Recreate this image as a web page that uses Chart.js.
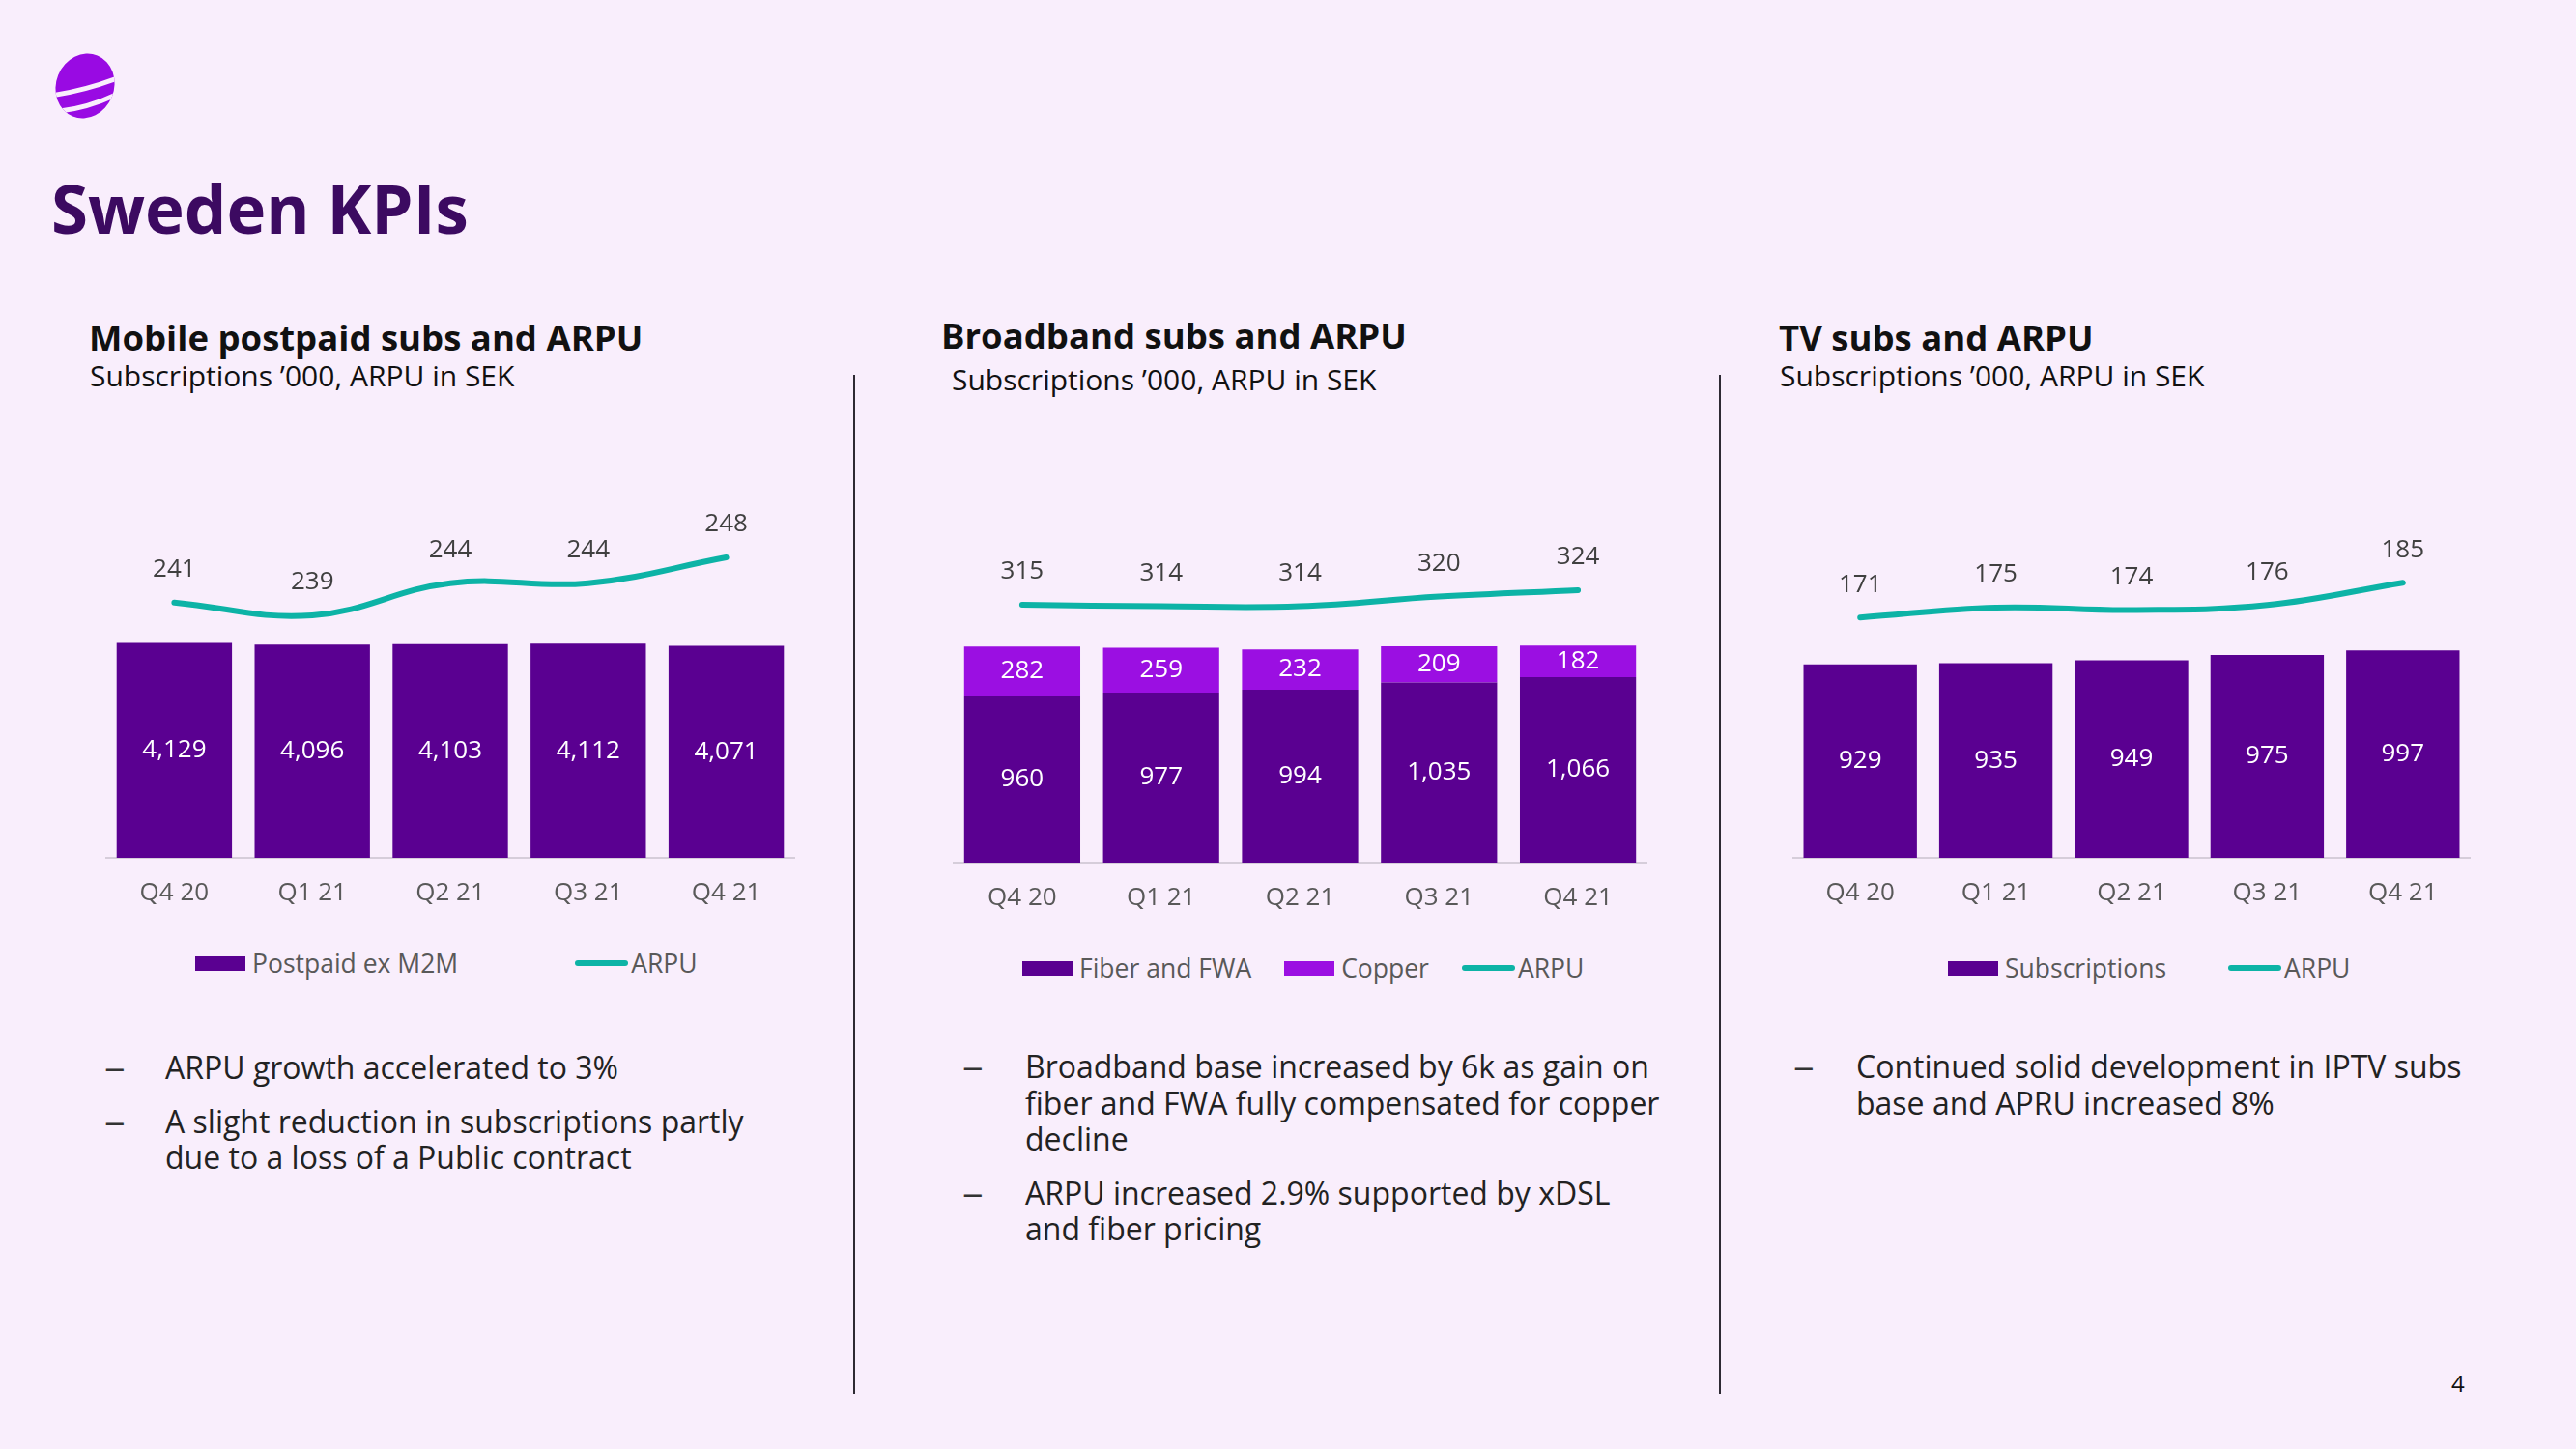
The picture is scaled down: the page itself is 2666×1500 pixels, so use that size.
<!DOCTYPE html>
<html>
<head>
<meta charset="utf-8">
<title>Sweden KPIs</title>
<script src="https://cdn.jsdelivr.net/npm/chart.js@4.4.1/dist/chart.umd.min.js"></script>
<style>
  html, body { margin: 0; padding: 0; }
  body {
    width: 2666px; height: 1500px; position: relative; overflow: hidden;
    background: #F9EEFC; font-family: "Open Sans", "Noto Sans", sans-serif;
  }
  .abs { position: absolute; white-space: nowrap; line-height: 1; }
  .page-title { font-size: 69px; font-weight: 700; color: #3C0A61; }
  .panel-title { font-size: 36.5px; font-weight: 700; color: #111; }
  .panel-sub { font-size: 30px; color: #111; }
  .divider { position: absolute; width: 2px; background: #2E2A33; top: 388px; height: 1055px; }
  canvas { position: absolute; }
  .legend { position: absolute; display: flex; align-items: center; height: 30px;
            font-size: 26.5px; color: #595959; white-space: nowrap; line-height: 1; }
  .lg-item { display: flex; align-items: center; }
  .lg-box { display: inline-block; width: 52px; height: 15px; margin-right: 7px; }
  .lg-line { display: inline-block; width: 55px; height: 6px; border-radius: 3px; margin-right: 3px; }
  .bullets { position: absolute; font-size: 32px; color: #222; }
  .bullets p { margin: 0 0 18px 0; line-height: 37.5px; position: relative; white-space: nowrap; }
  .bullets p .dash { position: absolute; top: 0; color: #333; display: inline-block;
                     transform: scaleX(1.35); transform-origin: left center; }
  .pagenum { font-size: 24px; color: #111; }
</style>
</head>
<body>

<svg class="abs" style="left:0;top:0" width="140" height="140" viewBox="0 0 140 140">
  <defs>
    <clipPath id="pebble">
      <ellipse cx="88" cy="89" rx="30" ry="34" transform="rotate(22 88 89)"/>
    </clipPath>
  </defs>
  <ellipse cx="88" cy="89" rx="30" ry="34" transform="rotate(22 88 89)" fill="#990AE3"/>
  <g clip-path="url(#pebble)" fill="none" stroke="#F9EEFC" stroke-width="5">
    <path d="M52 99 Q 88 94 124 80"/>
    <path d="M62 115 Q 94 111 124 96"/>
  </g>
</svg>

<div class="abs page-title" style="left:53px;top:181px">Sweden KPIs</div>

<div class="abs panel-title" style="left:92px;top:331px">Mobile postpaid subs and ARPU</div>
<div class="abs panel-sub" style="left:93px;top:374px">Subscriptions ’000, ARPU in SEK</div>

<div class="abs panel-title" style="left:974px;top:329px">Broadband subs and ARPU</div>
<div class="abs panel-sub" style="left:985px;top:378px">Subscriptions ’000, ARPU in SEK</div>

<div class="abs panel-title" style="left:1841px;top:331px">TV subs and ARPU</div>
<div class="abs panel-sub" style="left:1842px;top:374px">Subscriptions ’000, ARPU in SEK</div>

<div class="divider" style="left:883px"></div>
<div class="divider" style="left:1779px"></div>

<canvas id="c1" width="714" height="462" style="left:109px;top:500px"></canvas>
<canvas id="c2" width="719" height="467" style="left:986px;top:500px"></canvas>
<canvas id="c3" width="702" height="462" style="left:1855px;top:500px"></canvas>

<div class="legend" id="lg1" style="left:202px;top:982px"></div>
<div class="legend" id="lg2" style="left:1058px;top:987px"></div>
<div class="legend" id="lg3" style="left:2016px;top:987px"></div>

<div class="bullets" style="left:171px;top:1086px">
  <p><span class="dash" style="left:-63px">–</span>ARPU growth accelerated to 3%</p>
  <p><span class="dash" style="left:-63px">–</span>A slight reduction in subscriptions partly<br>due to a loss of a Public contract</p>
</div>
<div class="bullets" style="left:1061px;top:1085px">
  <p><span class="dash" style="left:-65px">–</span>Broadband base increased by 6k as gain on<br>fiber and FWA fully compensated for copper<br>decline</p>
  <p><span class="dash" style="left:-65px">–</span>ARPU increased 2.9% supported by xDSL<br>and fiber pricing</p>
</div>
<div class="bullets" style="left:1921px;top:1085px">
  <p><span class="dash" style="left:-65px">–</span>Continued solid development in IPTV subs<br>base and APRU increased 8%</p>
</div>

<div class="abs pagenum" style="left:2537px;top:1420px">4</div>

<script>
// ---- Data ----
const quarters = ['Q4 20', 'Q1 21', 'Q2 21', 'Q3 21', 'Q4 21'];

const mobilePostpaid = [4129, 4096, 4103, 4112, 4071];
const mobileArpu = [241, 239, 244, 244, 248];

const bbFiber = [960, 977, 994, 1035, 1066];
const bbCopper = [282, 259, 232, 209, 182];
const bbArpu = [315, 314, 314, 320, 324];

const tvSubs = [929, 935, 949, 975, 997];
const tvArpu = [171, 175, 174, 176, 185];

// ---- Styles ----
const DARK = '#5A0091';
const COPPER = '#9B0FE2';
const TEAL = '#0DB3A6';
const FONT = '"Open Sans", "Noto Sans", sans-serif';

const valueLabels = {
  id: 'valueLabels',
  afterDatasetsDraw(chart) {
    const ctx = chart.ctx;
    chart.data.datasets.forEach((ds, i) => {
      const meta = chart.getDatasetMeta(i);
      meta.data.forEach((el, j) => {
        const txt = ds.data[j].toLocaleString('en-US');
        ctx.save();
        ctx.font = '26px ' + FONT;
        ctx.textAlign = 'center';
        ctx.textBaseline = 'middle';
        if (ds.type === 'line') {
          ctx.fillStyle = '#404040';
          ctx.fillText(txt, el.x, el.y - 34);
        } else {
          ctx.fillStyle = '#FFFFFF';
          ctx.fillText(txt, el.x, (el.y + el.base) / 2);
        }
        ctx.restore();
      });
    });
  }
};

function barSet(label, data, color) {
  return { type: 'bar', label, data, backgroundColor: color, borderWidth: 0,
           yAxisID: 'y', stack: 'subs', barPercentage: 0.836, categoryPercentage: 1 };
}
function lineSet(label, data) {
  return { type: 'line', label, data, borderColor: TEAL, backgroundColor: TEAL,
           borderWidth: 6, tension: 0.4, pointRadius: 0, borderCapStyle: 'round',
           yAxisID: 'y1', fill: false };
}

function makeChart(id, datasets, yMax, y1Min, y1Max) {
  return new Chart(document.getElementById(id), {
    data: { labels: quarters, datasets },
    options: {
      responsive: false,
      animation: false,
      devicePixelRatio: 1,
      layout: { padding: { top: 40, left: 0, right: 0, bottom: 0 } },
      plugins: { legend: { display: false }, tooltip: { enabled: false } },
      scales: {
        x: {
          stacked: true,
          offset: true,
          grid: { display: false, drawTicks: false },
          border: { display: true, color: '#D6CDDA', width: 2 },
          ticks: { color: '#595959', font: { family: FONT, size: 26 }, padding: 21.4 }
        },
        y: { display: false, stacked: true, min: 0, max: yMax },
        y1: { display: false, stacked: false, min: y1Min, max: y1Max }
      }
    },
    plugins: [valueLabels]
  });
}

function buildLegend(chart, elId, gap) {
  const box = document.getElementById(elId);
  chart.data.datasets.forEach((ds, k) => {
    const item = document.createElement('span');
    item.className = 'lg-item';
    if (k > 0) item.style.marginLeft = gap + 'px';
    const sw = document.createElement('span');
    sw.className = ds.type === 'line' ? 'lg-line' : 'lg-box';
    sw.style.background = ds.type === 'line' ? ds.borderColor : ds.backgroundColor;
    const tx = document.createElement('span');
    tx.textContent = ds.label;
    item.appendChild(sw);
    item.appendChild(tx);
    box.appendChild(item);
  });
}

const ch1 = makeChart('c1', [
  barSet('Postpaid ex M2M', mobilePostpaid, DARK),
  lineSet('ARPU', mobileArpu)
], 6456, 201.35, 253.55);

const ch2 = makeChart('c2', [
  barSet('Fiber and FWA', bbFiber, DARK),
  barSet('Copper', bbCopper, COPPER),
  lineSet('ARPU', bbArpu)
], 1960, 154.6, 366.6);

const ch3 = makeChart('c3', [
  barSet('Subscriptions', tvSubs, DARK),
  lineSet('ARPU', tvArpu)
], 1615, 74.15, 209.6);

buildLegend(ch1, 'lg1', 121);
buildLegend(ch2, 'lg2', 34);
buildLegend(ch3, 'lg3', 64);
</script>
</body>
</html>
